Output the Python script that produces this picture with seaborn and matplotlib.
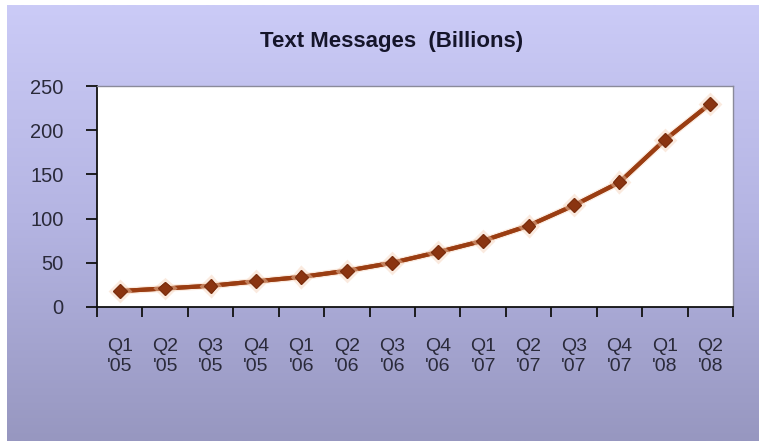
import numpy as np
import pandas as pd
import matplotlib
matplotlib.use("Agg")
import matplotlib.pyplot as plt
import matplotlib.patheffects as pe
from matplotlib.colors import LinearSegmentedColormap
import seaborn as sns

quarters = ["Q1\n'05", "Q2\n'05", "Q3\n'05", "Q4\n'05",
            "Q1\n'06", "Q2\n'06", "Q3\n'06", "Q4\n'06",
            "Q1\n'07", "Q2\n'07", "Q3\n'07", "Q4\n'07",
            "Q1\n'08", "Q2\n'08"]
messages = [18, 21, 24, 29, 34, 41, 50, 62, 75, 92, 115, 141, 189, 230]
y_ticks = [0, 50, 100, 150, 200, 250]
title = "Text Messages  (Billions)"

df = pd.DataFrame({"quarter": quarters, "messages": messages})

sns.set_theme(style="white")
plt.rcParams["font.family"] = ["Liberation Sans", "DejaVu Sans"]

W, H = 759, 447
fig = plt.figure(figsize=(W / 100, H / 100), dpi=100)
fig.patch.set_facecolor("white")

# gradient background panel
bg = fig.add_axes([7 / W, 6 / H, (W - 7) / W, (H - 6 - 5) / H], zorder=0)
cmap = LinearSegmentedColormap.from_list("bg", ["#cbcbf7", "#b4b4e2", "#9797c0"])
grad = np.linspace(0, 1, 256).reshape(-1, 1)
bg.imshow(grad, aspect="auto", cmap=cmap, extent=[0, 1, 0, 1], origin="upper")
bg.set_axis_off()

# plot area
left, right, top, bottom = 97, 733, 86, 307
ax = fig.add_axes([left / W, (H - bottom) / H, (right - left) / W, (bottom - top) / H], zorder=2)
ax.set_facecolor("white")

sns.lineplot(data=df, x="quarter", y="messages", sort=False, ax=ax,
             color="#9a3d12", linewidth=3.0, marker="D", markersize=7,
             markerfacecolor="#8a3410", markeredgecolor="#7a2e0e",
             path_effects=[pe.withStroke(linewidth=5, foreground="#f6d2b8", alpha=0.45), pe.Normal()])

n = len(quarters)
ax.set_xlim(-0.5, n - 0.5)
ax.set_ylim(0, 250)
ax.set_yticks(y_ticks)
ax.set_yticklabels([str(v) for v in y_ticks])
ax.set_xticks(np.arange(n))
ax.set_xticklabels(quarters, linespacing=1.25)
ax.set_xticks(np.arange(-0.5, n, 1.0), minor=True)
ax.tick_params(axis="x", which="major", length=0, pad=22, labelsize=14, labelcolor="#2a2a3a")
ax.tick_params(axis="x", which="minor", length=7, width=1.3, color="#111111", direction="out", bottom=True)
ax.tick_params(axis="y", which="major", length=8, width=1.3, color="#111111", direction="out",
               left=True, pad=16, labelsize=14.5, labelcolor="#2a2a3a")
ax.set_xlabel("")
ax.set_ylabel("")

for side in ["left", "bottom"]:
    ax.spines[side].set_color("#111111")
    ax.spines[side].set_linewidth(1.3)
for side in ["top", "right"]:
    ax.spines[side].set_visible(True)
    ax.spines[side].set_color("#8a8a9a")
    ax.spines[side].set_linewidth(1.0)

fig.text(392 / W, 1 - 41 / H, title, ha="center", va="center",
         fontsize=16, fontweight="bold", color="#15152a")

fig.savefig("out.png", dpi=100)
